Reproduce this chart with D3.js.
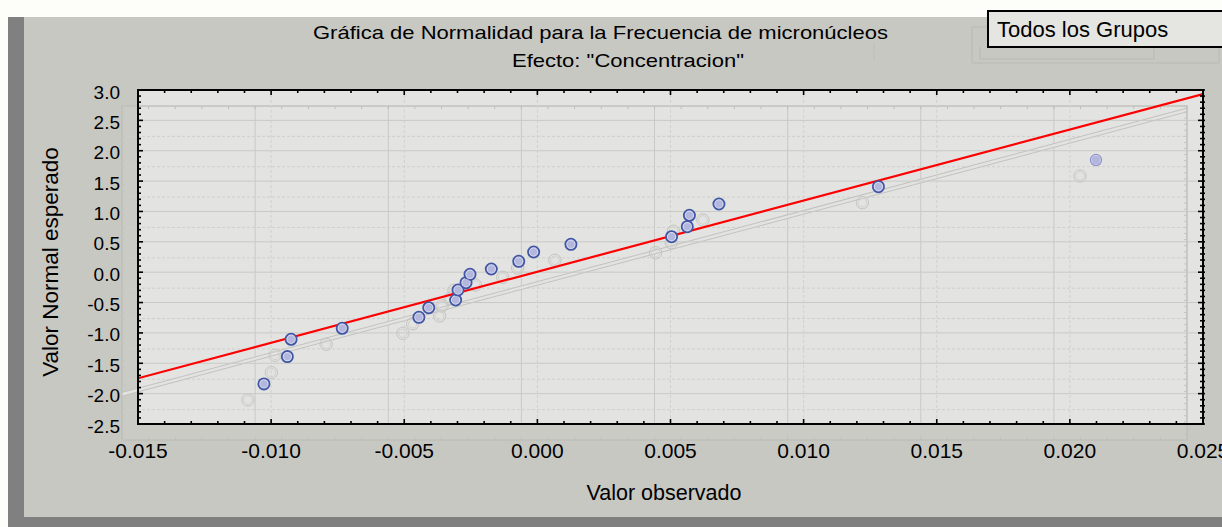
<!DOCTYPE html>
<html><head><meta charset="utf-8">
<script src="https://cdn.jsdelivr.net/npm/d3@7"></script>
<style>
html,body{margin:0;padding:0;background:#fdfdf9;overflow:hidden}
svg{display:block}
text{font-family:"Liberation Sans",Arial,sans-serif;fill:#000}
</style>
</head><body>
<svg id="c" width="1222" height="527"></svg>
<script>
// ---- data ----
const obsX = [-0.01027, -0.00939, -0.00925, -0.00733, -0.00445, -0.00408, -0.00307, -0.00298, -0.00268, -0.00253,
              -0.00173, -0.00070, -0.00014, 0.00126, 0.00504, 0.00563, 0.00571, 0.00682, 0.01281, 0.02098];
const expY = [-1.840, -1.390, -1.105, -0.924, -0.743, -0.585, -0.458, -0.293, -0.173, -0.035,
              0.052, 0.179, 0.332, 0.459, 0.584, 0.749, 0.937, 1.123, 1.408, 1.847];
const fitX = [-0.015, 0.025];
const fitY = [-1.747, 2.934];
const xTicks = [-0.015, -0.010, -0.005, 0.000, 0.005, 0.010, 0.015, 0.020, 0.025];
const yTicks = [3.0, 2.5, 2.0, 1.5, 1.0, 0.5, 0.0, -0.5, -1.0, -1.5, -2.0, -2.5];
const titleLines = ["Gráfica de Normalidad para la Frecuencia de micronúcleos", "Efecto: \"Concentracion\""];
const xLabel = "Valor observado";
const yLabel = "Valor Normal esperado";
const legendLabel = "Todos los Grupos";

// ---- layout ----
const svg = d3.select("#c");
const L = 138, R = 1203, T = 90, B = 424;
const gdx = -16, gdy = 16; // ghost offset
const x = d3.scaleLinear().domain([xTicks[0], xTicks[xTicks.length-1]]).range([L, R]);
const y = d3.scaleLinear().domain([yTicks[yTicks.length-1], yTicks[0]]).range([B, T]);
const xMinor = x.ticks(40);
const yMinor = y.ticks(55);
const pts = obsX.map((v, i) => ({x: v, y: expY[i]}));

// backgrounds
svg.append("rect").attr("width", 1222).attr("height", 527).attr("fill", "#fdfdf9");
svg.append("rect").attr("x", 8).attr("y", 17).attr("width", 1214).attr("height", 510).attr("fill", "#808080");
svg.append("rect").attr("x", 24).attr("y", 17).attr("width", 1198).attr("height", 500).attr("fill", "#c8c8c3");

// ghost region fill
svg.append("rect").attr("x", L + gdx).attr("y", T + gdy).attr("width", R - L).attr("height", B - T)
  .attr("fill", "#cbcbc6");
// main plot background
svg.append("rect").attr("x", L).attr("y", T).attr("width", R - L).attr("height", B - T).attr("fill", "#e3e3e1");

svg.append("clipPath").attr("id", "gclip").append("rect")
  .attr("x", L).attr("y", T).attr("width", R - L).attr("height", B - T);
svg.append("clipPath").attr("id", "mclip").append("rect")
  .attr("x", L).attr("y", T).attr("width", R - L).attr("height", B - T);

// ---- ghost layer ----
const ghost = svg.append("g").attr("transform", `translate(${gdx},${gdy})`);
const gIn = ghost.append("g").attr("clip-path", "url(#gclip)");
gIn.selectAll(".gv").data(xTicks).join("line")
  .attr("x1", d => x(d)).attr("x2", d => x(d)).attr("y1", T).attr("y2", B)
  .attr("stroke", "#c9c9c6").attr("stroke-width", 1);
gIn.selectAll(".gh").data(yTicks).join("line")
  .attr("x1", L).attr("x2", R).attr("y1", d => y(d)).attr("y2", d => y(d))
  .attr("stroke", "#cfcfcc").attr("stroke-width", 1).attr("stroke-dasharray", "3,2");
// ghost fit line (double outline)
const fitLine = d3.line().x(d => x(d[0])).y(d => y(d[1]));
const fitData = fitX.map((v, i) => [v, fitY[i]]);
gIn.append("path").attr("d", fitLine(fitData)).attr("stroke", "#c2c2bf").attr("stroke-width", 4.5).attr("fill", "none");
gIn.append("path").attr("d", fitLine(fitData)).attr("stroke", "#e3e3e1").attr("stroke-width", 2.5).attr("fill", "none");
// ghost frame and ticks
ghost.append("rect").attr("x", L).attr("y", T).attr("width", R - L).attr("height", B - T)
  .attr("fill", "none").attr("stroke", "#bdbdb9").attr("stroke-width", 1.3);
ghost.selectAll(".gtb").data(xMinor).join("line")
  .attr("x1", d => x(d)).attr("x2", d => x(d)).attr("y1", B).attr("y2", B - 3)
  .attr("stroke", "#bdbdb9");
ghost.selectAll(".gtt").data(xMinor).join("line")
  .attr("x1", d => x(d)).attr("x2", d => x(d)).attr("y1", T).attr("y2", T + 3)
  .attr("stroke", "#bdbdb9");
ghost.selectAll(".gtl").data(yMinor).join("line")
  .attr("x1", L).attr("x2", L + 3).attr("y1", d => y(d)).attr("y2", d => y(d))
  .attr("stroke", "#c4c4c0");
ghost.selectAll(".gtr").data(yMinor).join("line")
  .attr("x1", R).attr("x2", R - 3).attr("y1", d => y(d)).attr("y2", d => y(d))
  .attr("stroke", "#c4c4c0");
// ghost points
const gp = ghost.append("g");
gp.selectAll(".go").data(pts).join("circle")
  .attr("cx", d => x(d.x)).attr("cy", d => y(d.y)).attr("r", 6.2)
  .attr("fill", "none").attr("stroke", "#c4c4c1").attr("stroke-width", 1);
gp.selectAll(".gi").data(pts).join("circle")
  .attr("cx", d => x(d.x)).attr("cy", d => y(d.y)).attr("r", 4.3)
  .attr("fill", "none").attr("stroke", "#d0d0cd").attr("stroke-width", 1);

// ghost legend outlines
svg.append("path")
  .attr("d", "M988,27 H972 V63 H1219 V47 M980,47 V59 H1154 V47")
  .attr("fill", "none").attr("stroke", "#b9b9b5").attr("stroke-width", 1);
svg.append("path").attr("d", "M874,43 V60").attr("stroke", "#bdbdb9").attr("stroke-width", 1);

// ---- main grid ----
const mg = svg.append("g").attr("clip-path", "url(#mclip)");
mg.selectAll(".mh").data(yTicks).join("line")
  .attr("x1", L).attr("x2", R).attr("y1", d => y(d)).attr("y2", d => y(d))
  .attr("stroke", "#c9c9c6").attr("stroke-width", 1);
mg.selectAll(".mv").data(xTicks).join("line")
  .attr("x1", d => x(d)).attr("x2", d => x(d)).attr("y1", T).attr("y2", B)
  .attr("stroke", "#d0d0cd").attr("stroke-width", 1).attr("stroke-dasharray", "3,2");

// ---- fit line ----
mg.append("path").attr("d", fitLine(fitData)).attr("stroke", "#ff0000").attr("stroke-width", 2.2).attr("fill", "none");

// ---- points ----
const last = pts.length - 1;
const mp = svg.append("g");
mp.selectAll(".po").data(pts).join("circle")
  .attr("cx", d => x(d.x)).attr("cy", d => y(d.y)).attr("r", 5.6)
  .attr("fill", "#dcdeee")
  .attr("stroke", (d, i) => i === last ? "#8f95cc" : "#4256a6")
  .attr("stroke-width", (d, i) => i === last ? 1.2 : 1.8);
mp.selectAll(".pi").data(pts).join("circle")
  .attr("cx", d => x(d.x)).attr("cy", d => y(d.y)).attr("r", (d, i) => i === last ? 4.6 : 3.7)
  .attr("fill", "#b3b7de").attr("stroke", "none");

// ---- main frame & ticks ----
const axG = svg.append("g");
axG.append("rect").attr("x", L).attr("y", T).attr("width", R - L).attr("height", B - T)
  .attr("fill", "none").attr("stroke", "#000").attr("stroke-width", 2);
const isMajX = d => xTicks.some(t => Math.abs(t - d) < 1e-9);
const isMajY = d => yTicks.some(t => Math.abs(t - d) < 1e-9);
axG.selectAll(".tb").data(xMinor).join("line")
  .attr("x1", d => x(d)).attr("x2", d => x(d)).attr("y1", B).attr("y2", d => B - (isMajX(d) ? 5 : 3))
  .attr("stroke", "#000").attr("stroke-width", 1.6);
axG.selectAll(".tt").data(xMinor).join("line")
  .attr("x1", d => x(d)).attr("x2", d => x(d)).attr("y1", T).attr("y2", d => T + (isMajX(d) ? 5 : 3))
  .attr("stroke", "#000").attr("stroke-width", 1.6);
axG.selectAll(".tl").data(yMinor).join("line")
  .attr("x1", L).attr("x2", d => L + (isMajY(d) ? 5 : 3)).attr("y1", d => y(d)).attr("y2", d => y(d))
  .attr("stroke", "#000").attr("stroke-width", 1.6);
axG.selectAll(".tr").data(yMinor).join("line")
  .attr("x1", R + 2).attr("x2", d => R - (isMajY(d) ? 5 : 3)).attr("y1", d => y(d)).attr("y2", d => y(d))
  .attr("stroke", "#000").attr("stroke-width", 1.6);

// tick labels
svg.append("g").selectAll("text").data(xTicks).join("text")
  .attr("x", d => x(d)).attr("y", 458).attr("text-anchor", "middle")
  .style("font-size", "21px").text(d => d.toFixed(3));
svg.append("g").selectAll("text").data(yTicks).join("text")
  .attr("x", 120).attr("y", d => y(d) + 8.5).attr("text-anchor", "end")
  .style("font-size", "19px").text(d => d.toFixed(1));

// titles
svg.append("text").attr("x", 313).attr("y", 39).attr("textLength", 575).attr("lengthAdjust", "spacingAndGlyphs")
  .style("font-size", "18.5px").text(titleLines[0]);
svg.append("text").attr("x", 512).attr("y", 67).attr("textLength", 232).attr("lengthAdjust", "spacingAndGlyphs")
  .style("font-size", "18.5px").text(titleLines[1]);

// axis titles
svg.append("text").attr("x", 664).attr("y", 500).attr("text-anchor", "middle")
  .style("font-size", "21.5px").text(xLabel);
svg.append("text").attr("transform", "translate(58,262) rotate(-90)").attr("text-anchor", "middle")
  .style("font-size", "22.5px").text(yLabel);

// legend
svg.append("rect").attr("x", 988).attr("y", 11).attr("width", 260).attr("height", 36)
  .attr("fill", "#e5e5e1").attr("stroke", "#000").attr("stroke-width", 2);
svg.append("text").attr("x", 997).attr("y", 37).style("font-size", "22px").text(legendLabel);
</script>
</body></html>
